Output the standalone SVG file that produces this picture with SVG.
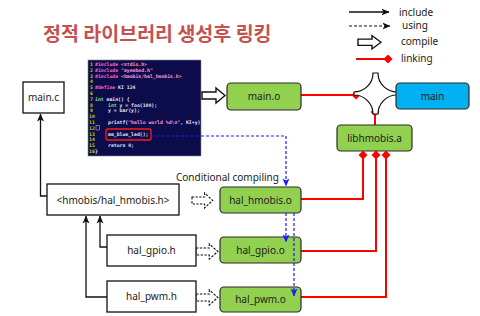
<svg xmlns="http://www.w3.org/2000/svg" width="480" height="316" viewBox="0 0 480 316">
  <defs>
    <style>
      .lbl { font-family: "Noto Sans", "Open Sans", sans-serif; font-size: 10px; fill: #222; text-anchor: middle; }
      .lg { font-family: "Noto Sans", "Open Sans", sans-serif; font-size: 10px; fill: #222; }
      .box { fill: #fff; stroke: #111; stroke-width: 1.3; }
      .obj { fill: #92d050; stroke: #2b2b2b; stroke-width: 1.2; }
      .exe { fill: #00b0f0; stroke: #2b2b2b; stroke-width: 1.2; }
      .inc { fill: none; stroke: #111; stroke-width: 1.3; marker-end: url(#arrow); }
      .use { fill: none; stroke: #111; stroke-width: 1.2; stroke-dasharray: 3 2; marker-end: url(#arrow); }
      .call { fill: none; stroke: #1a1aff; stroke-width: 1.2; stroke-dasharray: 3 2; marker-end: url(#barrow); }
      .link { fill: none; stroke: #ff0000; stroke-width: 2; }
      .dia { fill: #ff0000; }
      .fat { fill: #fff; stroke: #111; stroke-width: 1.4; }
      .fatd { fill: #fff; stroke: #111; stroke-width: 1.2; stroke-dasharray: 2.5 1.5; }
      .code { font-family: "DejaVu Sans Mono", "Liberation Mono", monospace; font-size: 4.8px; font-weight: bold; fill: #e6e6ff; }
      .num { fill: #c8d400; }
      .pp { fill: #ff66cc; }
      .str { fill: #ff9ad5; }
      .kw { fill: #7cf07c; }
      .title { font-family: "Noto Sans CJK KR", "Noto Sans", sans-serif; font-size: 19.5px; font-weight: bold; fill: #c55050; }
    </style>
    <marker id="arrow" viewBox="0 0 8 8" refX="7.5" refY="4" markerWidth="8" markerHeight="8" markerUnits="userSpaceOnUse" orient="auto">
      <path d="M0,0.5 L8,4 L0,7.5 L2,4 Z" fill="#111"/>
    </marker>
    <marker id="barrow" viewBox="0 0 8 8" refX="7.5" refY="4" markerWidth="8" markerHeight="8" markerUnits="userSpaceOnUse" orient="auto">
      <path d="M0,0.5 L8,4 L0,7.5 L2,4 Z" fill="#1a1aff"/>
    </marker>
    <path id="fatArrow" d="M0,4 H14 V0 L23,7.5 L14,15 V11 H0 Z"/>
    <path id="diamond" d="M0,-4.5 L4.5,0 L0,4.5 L-4.5,0 Z"/>
  </defs>

  <rect width="480" height="316" fill="#fff"/>

  <!-- heading -->
  <text class="title" x="43" y="41">정적 라이브러리 생성후 링킹</text>

  <!-- legend -->
  <g id="legend">
    <line class="inc" x1="349" y1="12" x2="389" y2="12"/>
    <text class="lg" x="399" y="16">include</text>
    <line class="use" x1="349" y1="26" x2="390" y2="26"/>
    <text class="lg" x="402" y="29">using</text>
    <use href="#fatArrow" class="fat" transform="translate(358,35.5) scale(1,0.9)"/>
    <text class="lg" x="401" y="45">compile</text>
    <line class="link" x1="356" y1="59" x2="386" y2="59"/>
    <use href="#diamond" class="dia" x="388" y="59"/>
    <text class="lg" x="401" y="62">linking</text>
  </g>

  <!-- source listing of main.c -->
  <g id="code">
    <rect x="88" y="60" width="113" height="96" fill="#0c0c4a" stroke="#888" stroke-width="0.6"/>
    <g class="code">
      <!-- line numbers -->
      <g class="num">
        <text x="90" y="66">1</text>
        <text x="90" y="71.8">2</text>
        <text x="90" y="77.6">3</text>
        <text x="90" y="83.4">4</text>
        <text x="90" y="89.2">5</text>
        <text x="90" y="95">6</text>
        <text x="90" y="100.8">7</text>
        <text x="90" y="106.6">8</text>
        <text x="90" y="112.4">9</text>
        <text x="89" y="118.2">10</text>
        <text x="89" y="124">11</text>
        <text x="89" y="129.8">12</text>
        <text x="89" y="135.6">13</text>
        <text x="89" y="141.4">14</text>
        <text x="89" y="147.2">15</text>
        <text x="89" y="153">16</text>
      </g>
      <!-- source text -->
      <text x="95" y="66"><tspan class="pp">#include</tspan> <tspan class="str">&lt;stdio.h&gt;</tspan></text>
      <text x="95" y="71.8"><tspan class="pp">#include</tspan> <tspan class="str">"myembed.h"</tspan></text>
      <text x="95" y="77.6"><tspan class="pp">#include</tspan> <tspan class="str">&lt;hmobis/hal_hmobis.h&gt;</tspan></text>
      <text x="95" y="89.2"><tspan class="pp">#define</tspan> KI 124</text>
      <text x="95" y="100.8"><tspan class="kw">int</tspan> main() {</text>
      <text x="108" y="106.6"><tspan class="kw">int</tspan> y = foo(100);</text>
      <text x="108" y="112.4">y = bar(y);</text>
      <text x="108" y="124">printf(<tspan class="str">"hello world %d\n"</tspan>, KI+y);</text>
      <text x="108" y="135.6">mm_blue_led();</text>
      <text x="108" y="147.2">return 0;</text>
      <text x="95" y="153">}</text>
    </g>
    <rect x="96" y="125.5" width="3.5" height="4.5" fill="none" stroke="#ccc" stroke-width="0.5"/>
    <rect x="106" y="129" width="45" height="11" rx="2" fill="none" stroke="#ff1a1a" stroke-width="1.3"/>
  </g>

  <!-- connectors -->
  <g id="connectors">
    <!-- include -->
    <path class="inc" d="M47,196 H40.5 V114"/>
    <path class="inc" d="M107,247 H100 V216"/>
    <path class="inc" d="M107,297 H86 V216"/>
    <!-- call into the library -->
    <path class="call" d="M151,136 H286 V186"/>
    <!-- compile -->
    <use href="#fatArrow" class="fat" x="202" y="88"/>
    <use href="#fatArrow" class="fatd" transform="translate(192,193) scale(0.9,1)"/>
    <use href="#fatArrow" class="fatd" transform="translate(196,244) scale(0.95,1)"/>
    <use href="#fatArrow" class="fatd" transform="translate(196,290) scale(0.95,1)"/>
    <!-- linking -->
    <path class="link" d="M301,95 H354"/>
    <path class="link" d="M375,125 V114"/>
    <path class="link" d="M301,199 H363 V157"/>
    <path class="link" d="M301,251 H376 V157"/>
    <path class="link" d="M301,297 H386 V157"/>
    <use href="#diamond" class="dia" x="356" y="95"/>
    <use href="#diamond" class="dia" x="375" y="112"/>
    <use href="#diamond" class="dia" x="363" y="155"/>
    <use href="#diamond" class="dia" x="376" y="155"/>
    <use href="#diamond" class="dia" x="386" y="155"/>
  </g>

  <!-- link junction -->
  <g id="junction">
    <path d="M373,73 H378 A19,19 0 0 0 397,92 V95 A19,19 0 0 0 378,114 H373 A19,19 0 0 0 354,95 V92 A19,19 0 0 0 373,73 Z" fill="#fff" stroke="#111" stroke-width="1.2"/>
  </g>

  <!-- sources and headers -->
  <g id="main_c">
    <rect class="box" x="23" y="82" width="41" height="31"/>
    <text class="lbl" x="43.5" y="101">main.c</text>
  </g>
  <g id="hal_hmobis_h">
    <rect class="box" x="47" y="184" width="132" height="31"/>
    <text class="lbl" x="113" y="203.5">&lt;hmobis/hal_hmobis.h&gt;</text>
  </g>
  <g id="hal_gpio_h">
    <rect class="box" x="107" y="235" width="89" height="31"/>
    <text class="lbl" x="151.5" y="254">hal_gpio.h</text>
  </g>
  <g id="hal_pwm_h">
    <rect class="box" x="107" y="281" width="89" height="31"/>
    <text class="lbl" x="151.5" y="300">hal_pwm.h</text>
  </g>

  <!-- objects, library and executable -->
  <g id="main_o">
    <rect class="obj" x="227" y="83" width="74" height="27" rx="4"/>
    <text class="lbl" x="264" y="100">main.o</text>
  </g>
  <g id="main">
    <rect class="exe" x="396" y="83" width="73" height="26" rx="4"/>
    <text class="lbl" x="432.5" y="99.5">main</text>
  </g>
  <g id="libhmobis_a">
    <rect class="obj" x="337" y="125" width="75" height="26" rx="4"/>
    <text class="lbl" x="374.5" y="141.5">libhmobis.a</text>
  </g>
  <text class="lg" x="176" y="181">Conditional compiling</text>
  <g id="hal_hmobis_o">
    <rect class="obj" x="220" y="187" width="81" height="26" rx="4"/>
    <text class="lbl" x="260.5" y="203.5">hal_hmobis.o</text>
  </g>
  <g id="hal_gpio_o">
    <rect class="obj" x="220" y="237" width="81" height="26" rx="4"/>
    <text class="lbl" x="260.5" y="254">hal_gpio.o</text>
  </g>
  <g id="hal_pwm_o">
    <rect class="obj" x="220" y="287" width="81" height="25" rx="4"/>
    <text class="lbl" x="260.5" y="303">hal_pwm.o</text>
  </g>

  <!-- blue call lines drawn over the object boxes -->
  <g id="call_overlay">
    <path class="call" d="M286,213 V242"/>
    <path class="call" d="M294,213 V296"/>
  </g>
</svg>
